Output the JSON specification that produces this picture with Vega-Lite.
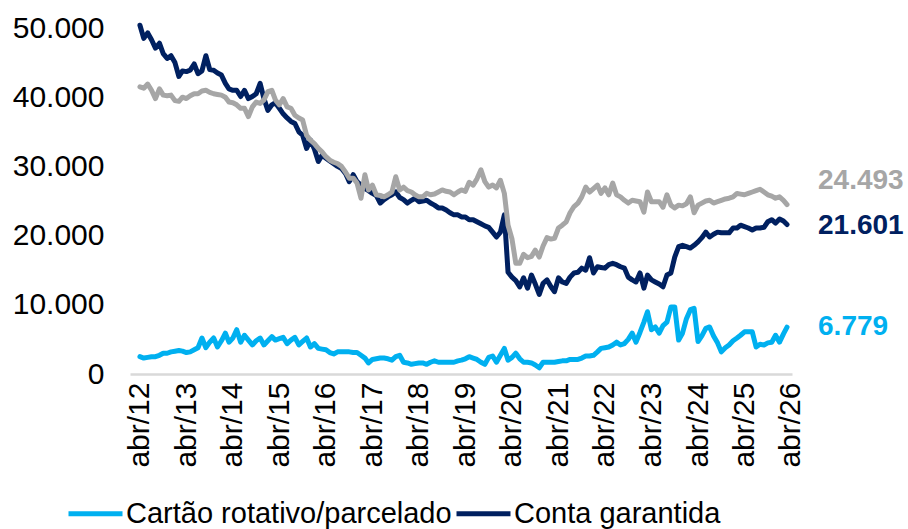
{
"$schema": "https://vega.github.io/schema/vega-lite/v6.json",
"width": 662, "height": 346,
"padding": {"left": 12, "top": 13, "right": 0, "bottom": 0},
"background": "white",
"config": {"view": {"stroke": null}, "font": "Liberation Sans",
  "locale": {"number": {"decimal": ",", "thousands": ".", "grouping": [3], "currency": ["R$", ""]}}},
"datasets": {
"cartao": [
{"d":"2012-04","v":2500},{"d":"2012-05","v":2300},{"d":"2012-06","v":2400},{"d":"2012-07","v":2500},{"d":"2012-08","v":2500},{"d":"2012-09","v":2700},{"d":"2012-10","v":3000},{"d":"2012-11","v":3000},{"d":"2012-12","v":3200},
{"d":"2013-01","v":3300},{"d":"2013-02","v":3400},{"d":"2013-03","v":3300},{"d":"2013-04","v":3100},{"d":"2013-05","v":3200},{"d":"2013-06","v":3500},{"d":"2013-07","v":3800},{"d":"2013-08","v":5200},{"d":"2013-09","v":3800},{"d":"2013-10","v":4600},{"d":"2013-11","v":5200},{"d":"2013-12","v":3900},
{"d":"2014-01","v":4800},{"d":"2014-02","v":5900},{"d":"2014-03","v":4600},{"d":"2014-04","v":5200},{"d":"2014-05","v":6400},{"d":"2014-06","v":4600},{"d":"2014-07","v":5600},{"d":"2014-08","v":4900},{"d":"2014-09","v":4200},{"d":"2014-10","v":4800},{"d":"2014-11","v":5200},{"d":"2014-12","v":4200},
{"d":"2015-01","v":4800},{"d":"2015-02","v":5400},{"d":"2015-03","v":4900},{"d":"2015-04","v":5100},{"d":"2015-05","v":5300},{"d":"2015-06","v":4400},{"d":"2015-07","v":4900},{"d":"2015-08","v":5300},{"d":"2015-09","v":4200},{"d":"2015-10","v":4700},{"d":"2015-11","v":5200},{"d":"2015-12","v":3900},
{"d":"2016-01","v":4400},{"d":"2016-02","v":3700},{"d":"2016-03","v":3600},{"d":"2016-04","v":3500},{"d":"2016-05","v":3100},{"d":"2016-06","v":2900},{"d":"2016-07","v":3200},{"d":"2016-08","v":3200},{"d":"2016-09","v":3200},{"d":"2016-10","v":3200},{"d":"2016-11","v":3100},{"d":"2016-12","v":3100},
{"d":"2017-01","v":2700},{"d":"2017-02","v":2300},{"d":"2017-03","v":1600},{"d":"2017-04","v":2100},{"d":"2017-05","v":2200},{"d":"2017-06","v":2300},{"d":"2017-07","v":2300},{"d":"2017-08","v":2200},{"d":"2017-09","v":2000},{"d":"2017-10","v":2500},{"d":"2017-11","v":2700},{"d":"2017-12","v":1700},
{"d":"2018-01","v":1600},{"d":"2018-02","v":1400},{"d":"2018-03","v":1500},{"d":"2018-04","v":1600},{"d":"2018-05","v":1600},{"d":"2018-06","v":1400},{"d":"2018-07","v":1700},{"d":"2018-08","v":1900},{"d":"2018-09","v":1700},{"d":"2018-10","v":1700},{"d":"2018-11","v":1700},{"d":"2018-12","v":1700},
{"d":"2019-01","v":1700},{"d":"2019-02","v":1900},{"d":"2019-03","v":2000},{"d":"2019-04","v":2200},{"d":"2019-05","v":2500},{"d":"2019-06","v":2300},{"d":"2019-07","v":2100},{"d":"2019-08","v":1700},{"d":"2019-09","v":1400},{"d":"2019-10","v":2400},{"d":"2019-11","v":2600},{"d":"2019-12","v":1700},
{"d":"2020-01","v":2700},{"d":"2020-02","v":3700},{"d":"2020-03","v":2000},{"d":"2020-04","v":2400},{"d":"2020-05","v":3000},{"d":"2020-06","v":2200},{"d":"2020-07","v":1700},{"d":"2020-08","v":1700},{"d":"2020-09","v":1600},{"d":"2020-10","v":1300},{"d":"2020-11","v":900},{"d":"2020-12","v":1700},
{"d":"2021-01","v":1700},{"d":"2021-02","v":1700},{"d":"2021-03","v":1700},{"d":"2021-04","v":1800},{"d":"2021-05","v":1900},{"d":"2021-06","v":1900},{"d":"2021-07","v":2100},{"d":"2021-08","v":2100},{"d":"2021-09","v":2100},{"d":"2021-10","v":2300},{"d":"2021-11","v":2600},{"d":"2021-12","v":2600},
{"d":"2022-01","v":2700},{"d":"2022-02","v":3200},{"d":"2022-03","v":3700},{"d":"2022-04","v":3800},{"d":"2022-05","v":3900},{"d":"2022-06","v":4200},{"d":"2022-07","v":4600},{"d":"2022-08","v":4200},{"d":"2022-09","v":4400},{"d":"2022-10","v":5000},{"d":"2022-11","v":5900},{"d":"2022-12","v":4600},
{"d":"2023-01","v":6000},{"d":"2023-02","v":7500},{"d":"2023-03","v":9000},{"d":"2023-04","v":6400},{"d":"2023-05","v":6800},{"d":"2023-06","v":5900},{"d":"2023-07","v":7000},{"d":"2023-08","v":7500},{"d":"2023-09","v":9700},{"d":"2023-10","v":9700},{"d":"2023-11","v":4900},{"d":"2023-12","v":5900},
{"d":"2024-01","v":8000},{"d":"2024-02","v":9300},{"d":"2024-03","v":9500},{"d":"2024-04","v":4700},{"d":"2024-05","v":5500},{"d":"2024-06","v":6600},{"d":"2024-07","v":6800},{"d":"2024-08","v":5500},{"d":"2024-09","v":4500},{"d":"2024-10","v":3200},{"d":"2024-11","v":3800},{"d":"2024-12","v":4200},
{"d":"2025-01","v":4800},{"d":"2025-02","v":5200},{"d":"2025-03","v":5600},{"d":"2025-04","v":6100},{"d":"2025-05","v":6100},{"d":"2025-06","v":6100},{"d":"2025-07","v":3900},{"d":"2025-08","v":4300},{"d":"2025-09","v":4200},{"d":"2025-10","v":4500},{"d":"2025-11","v":4600},{"d":"2025-12","v":5600},
{"d":"2026-01","v":4600},{"d":"2026-02","v":5800},{"d":"2026-03","v":6779}
],
"conta": [
{"d":"2012-04","v":50400},{"d":"2012-05","v":48500},{"d":"2012-06","v":49300},{"d":"2012-07","v":48300},{"d":"2012-08","v":47100},{"d":"2012-09","v":47800},{"d":"2012-10","v":46300},{"d":"2012-11","v":45600},{"d":"2012-12","v":46000},
{"d":"2013-01","v":45000},{"d":"2013-02","v":43000},{"d":"2013-03","v":43800},{"d":"2013-04","v":43700},{"d":"2013-05","v":43900},{"d":"2013-06","v":44800},{"d":"2013-07","v":43400},{"d":"2013-08","v":43800},{"d":"2013-09","v":46000},{"d":"2013-10","v":44000},{"d":"2013-11","v":43900},{"d":"2013-12","v":43500},
{"d":"2014-01","v":43200},{"d":"2014-02","v":42000},{"d":"2014-03","v":41200},{"d":"2014-04","v":41000},{"d":"2014-05","v":41000},{"d":"2014-06","v":40100},{"d":"2014-07","v":41000},{"d":"2014-08","v":39800},{"d":"2014-09","v":40100},{"d":"2014-10","v":40500},{"d":"2014-11","v":42000},{"d":"2014-12","v":39800},
{"d":"2015-01","v":38100},{"d":"2015-02","v":38900},{"d":"2015-03","v":39200},{"d":"2015-04","v":38400},{"d":"2015-05","v":37600},{"d":"2015-06","v":37000},{"d":"2015-07","v":36500},{"d":"2015-08","v":36200},{"d":"2015-09","v":35000},{"d":"2015-10","v":34500},{"d":"2015-11","v":32600},{"d":"2015-12","v":33800},
{"d":"2016-01","v":32500},{"d":"2016-02","v":30700},{"d":"2016-03","v":31600},{"d":"2016-04","v":31200},{"d":"2016-05","v":30800},{"d":"2016-06","v":30400},{"d":"2016-07","v":30000},{"d":"2016-08","v":29700},{"d":"2016-09","v":29000},{"d":"2016-10","v":27800},{"d":"2016-11","v":28800},{"d":"2016-12","v":27800},
{"d":"2017-01","v":27300},{"d":"2017-02","v":26800},{"d":"2017-03","v":26500},{"d":"2017-04","v":26100},{"d":"2017-05","v":25800},{"d":"2017-06","v":24700},{"d":"2017-07","v":25200},{"d":"2017-08","v":25600},{"d":"2017-09","v":25900},{"d":"2017-10","v":26300},{"d":"2017-11","v":25500},{"d":"2017-12","v":25200},
{"d":"2018-01","v":24700},{"d":"2018-02","v":25100},{"d":"2018-03","v":25400},{"d":"2018-04","v":24900},{"d":"2018-05","v":25000},{"d":"2018-06","v":25100},{"d":"2018-07","v":24700},{"d":"2018-08","v":24400},{"d":"2018-09","v":24000},{"d":"2018-10","v":24000},{"d":"2018-11","v":23700},{"d":"2018-12","v":23300},
{"d":"2019-01","v":23000},{"d":"2019-02","v":23000},{"d":"2019-03","v":22700},{"d":"2019-04","v":22700},{"d":"2019-05","v":22300},{"d":"2019-06","v":22300},{"d":"2019-07","v":22000},{"d":"2019-08","v":21700},{"d":"2019-09","v":21400},{"d":"2019-10","v":21200},{"d":"2019-11","v":20500},{"d":"2019-12","v":19800},
{"d":"2020-01","v":20500},{"d":"2020-02","v":23000},{"d":"2020-03","v":14700},{"d":"2020-04","v":14000},{"d":"2020-05","v":13500},{"d":"2020-06","v":12600},{"d":"2020-07","v":13900},{"d":"2020-08","v":12400},{"d":"2020-09","v":14300},{"d":"2020-10","v":13000},{"d":"2020-11","v":11500},{"d":"2020-12","v":13100},
{"d":"2021-01","v":13600},{"d":"2021-02","v":12600},{"d":"2021-03","v":11900},{"d":"2021-04","v":13900},{"d":"2021-05","v":13300},{"d":"2021-06","v":13100},{"d":"2021-07","v":14000},{"d":"2021-08","v":14600},{"d":"2021-09","v":14700},{"d":"2021-10","v":15300},{"d":"2021-11","v":15000},{"d":"2021-12","v":16800},
{"d":"2022-01","v":14600},{"d":"2022-02","v":15500},{"d":"2022-03","v":15400},{"d":"2022-04","v":15300},{"d":"2022-05","v":15800},{"d":"2022-06","v":16000},{"d":"2022-07","v":15800},{"d":"2022-08","v":15500},{"d":"2022-09","v":15300},{"d":"2022-10","v":14000},{"d":"2022-11","v":13600},{"d":"2022-12","v":13300},
{"d":"2023-01","v":14600},{"d":"2023-02","v":12400},{"d":"2023-03","v":14300},{"d":"2023-04","v":13600},{"d":"2023-05","v":13300},{"d":"2023-06","v":13000},{"d":"2023-07","v":12600},{"d":"2023-08","v":14300},{"d":"2023-09","v":14600},{"d":"2023-10","v":16900},{"d":"2023-11","v":18400},{"d":"2023-12","v":18600},
{"d":"2024-01","v":18400},{"d":"2024-02","v":18200},{"d":"2024-03","v":18600},{"d":"2024-04","v":19100},{"d":"2024-05","v":19700},{"d":"2024-06","v":20500},{"d":"2024-07","v":19800},{"d":"2024-08","v":20200},{"d":"2024-09","v":20500},{"d":"2024-10","v":20400},{"d":"2024-11","v":20400},{"d":"2024-12","v":20400},
{"d":"2025-01","v":21100},{"d":"2025-02","v":21100},{"d":"2025-03","v":21500},{"d":"2025-04","v":21300},{"d":"2025-05","v":21100},{"d":"2025-06","v":20800},{"d":"2025-07","v":21100},{"d":"2025-08","v":21100},{"d":"2025-09","v":21200},{"d":"2025-10","v":22000},{"d":"2025-11","v":22300},{"d":"2025-12","v":21800},
{"d":"2026-01","v":22400},{"d":"2026-02","v":22100},{"d":"2026-03","v":21601}
],
"outros": [
{"d":"2012-04","v":41500},{"d":"2012-05","v":41300},{"d":"2012-06","v":41900},{"d":"2012-07","v":41000},{"d":"2012-08","v":39800},{"d":"2012-09","v":41200},{"d":"2012-10","v":40300},{"d":"2012-11","v":40200},{"d":"2012-12","v":40300},
{"d":"2013-01","v":39500},{"d":"2013-02","v":39400},{"d":"2013-03","v":40000},{"d":"2013-04","v":39800},{"d":"2013-05","v":40200},{"d":"2013-06","v":40500},{"d":"2013-07","v":40500},{"d":"2013-08","v":40900},{"d":"2013-09","v":41000},{"d":"2013-10","v":40700},{"d":"2013-11","v":40500},{"d":"2013-12","v":40400},
{"d":"2014-01","v":40300},{"d":"2014-02","v":40000},{"d":"2014-03","v":39300},{"d":"2014-04","v":39200},{"d":"2014-05","v":38900},{"d":"2014-06","v":38400},{"d":"2014-07","v":38400},{"d":"2014-08","v":37200},{"d":"2014-09","v":38600},{"d":"2014-10","v":39300},{"d":"2014-11","v":39100},{"d":"2014-12","v":39600},
{"d":"2015-01","v":40800},{"d":"2015-02","v":41000},{"d":"2015-03","v":39600},{"d":"2015-04","v":38900},{"d":"2015-05","v":39800},{"d":"2015-06","v":38600},{"d":"2015-07","v":38400},{"d":"2015-08","v":37400},{"d":"2015-09","v":37000},{"d":"2015-10","v":36700},{"d":"2015-11","v":34500},{"d":"2015-12","v":33800},
{"d":"2016-01","v":33300},{"d":"2016-02","v":32600},{"d":"2016-03","v":32100},{"d":"2016-04","v":31400},{"d":"2016-05","v":30900},{"d":"2016-06","v":30600},{"d":"2016-07","v":30400},{"d":"2016-08","v":30000},{"d":"2016-09","v":29200},{"d":"2016-10","v":28300},{"d":"2016-11","v":28300},{"d":"2016-12","v":27600},
{"d":"2017-01","v":25400},{"d":"2017-02","v":28800},{"d":"2017-03","v":26600},{"d":"2017-04","v":27300},{"d":"2017-05","v":25900},{"d":"2017-06","v":25800},{"d":"2017-07","v":25600},{"d":"2017-08","v":25900},{"d":"2017-09","v":26300},{"d":"2017-10","v":28500},{"d":"2017-11","v":26600},{"d":"2017-12","v":27000},
{"d":"2018-01","v":26500},{"d":"2018-02","v":26300},{"d":"2018-03","v":25900},{"d":"2018-04","v":25600},{"d":"2018-05","v":25600},{"d":"2018-06","v":26100},{"d":"2018-07","v":25900},{"d":"2018-08","v":26000},{"d":"2018-09","v":26300},{"d":"2018-10","v":26600},{"d":"2018-11","v":26400},{"d":"2018-12","v":26300},
{"d":"2019-01","v":25900},{"d":"2019-02","v":26300},{"d":"2019-03","v":26600},{"d":"2019-04","v":26400},{"d":"2019-05","v":27700},{"d":"2019-06","v":27300},{"d":"2019-07","v":28200},{"d":"2019-08","v":29500},{"d":"2019-09","v":27800},{"d":"2019-10","v":27000},{"d":"2019-11","v":27300},{"d":"2019-12","v":26900},
{"d":"2020-01","v":28000},{"d":"2020-02","v":26100},{"d":"2020-03","v":21500},{"d":"2020-04","v":19500},{"d":"2020-05","v":16000},{"d":"2020-06","v":16000},{"d":"2020-07","v":17300},{"d":"2020-08","v":16800},{"d":"2020-09","v":17000},{"d":"2020-10","v":17900},{"d":"2020-11","v":16900},{"d":"2020-12","v":18500},
{"d":"2021-01","v":19700},{"d":"2021-02","v":19500},{"d":"2021-03","v":19600},{"d":"2021-04","v":21100},{"d":"2021-05","v":21500},{"d":"2021-06","v":22000},{"d":"2021-07","v":23300},{"d":"2021-08","v":24200},{"d":"2021-09","v":24700},{"d":"2021-10","v":25600},{"d":"2021-11","v":27000},{"d":"2021-12","v":26300},
{"d":"2022-01","v":26800},{"d":"2022-02","v":27300},{"d":"2022-03","v":26100},{"d":"2022-04","v":26900},{"d":"2022-05","v":25900},{"d":"2022-06","v":27600},{"d":"2022-07","v":25900},{"d":"2022-08","v":25600},{"d":"2022-09","v":25100},{"d":"2022-10","v":24700},{"d":"2022-11","v":25100},{"d":"2022-12","v":25000},
{"d":"2023-01","v":24900},{"d":"2023-02","v":23400},{"d":"2023-03","v":26300},{"d":"2023-04","v":24900},{"d":"2023-05","v":24900},{"d":"2023-06","v":24900},{"d":"2023-07","v":24100},{"d":"2023-08","v":25900},{"d":"2023-09","v":24400},{"d":"2023-10","v":24000},{"d":"2023-11","v":24400},{"d":"2023-12","v":24300},
{"d":"2024-01","v":24600},{"d":"2024-02","v":25600},{"d":"2024-03","v":23300},{"d":"2024-04","v":24400},{"d":"2024-05","v":24700},{"d":"2024-06","v":25000},{"d":"2024-07","v":25100},{"d":"2024-08","v":24700},{"d":"2024-09","v":24900},{"d":"2024-10","v":25100},{"d":"2024-11","v":25300},{"d":"2024-12","v":25400},
{"d":"2025-01","v":25600},{"d":"2025-02","v":26100},{"d":"2025-03","v":26000},{"d":"2025-04","v":25900},{"d":"2025-05","v":26100},{"d":"2025-06","v":26300},{"d":"2025-07","v":26500},{"d":"2025-08","v":26700},{"d":"2025-09","v":26300},{"d":"2025-10","v":25900},{"d":"2025-11","v":25700},{"d":"2025-12","v":25400},
{"d":"2026-01","v":25600},{"d":"2026-02","v":25100},{"d":"2026-03","v":24493}
]
},
"encoding": {
  "x": {"field": "d", "type": "temporal",
    "scale": {"type": "utc", "domain": [{"year": 2012, "month": 1, "date": 14, "utc": true}, {"year": 2026, "month": 4, "date": 9, "utc": true}]},
    "axis": {"title": null,
      "values": [{"year":2012,"month":4,"date":1,"utc":true},{"year":2013,"month":4,"date":1,"utc":true},{"year":2014,"month":4,"date":1,"utc":true},{"year":2015,"month":4,"date":1,"utc":true},{"year":2016,"month":4,"date":1,"utc":true},{"year":2017,"month":4,"date":1,"utc":true},{"year":2018,"month":4,"date":1,"utc":true},{"year":2019,"month":4,"date":1,"utc":true},{"year":2020,"month":4,"date":1,"utc":true},{"year":2021,"month":4,"date":1,"utc":true},{"year":2022,"month":4,"date":1,"utc":true},{"year":2023,"month":4,"date":1,"utc":true},{"year":2024,"month":4,"date":1,"utc":true},{"year":2025,"month":4,"date":1,"utc":true},{"year":2026,"month":4,"date":1,"utc":true}],
      "labelExpr": "'abr/' + utcFormat(datum.value, '%y')",
      "labelAngle": 270, "labelFontSize": 30, "labelFont": "Liberation Sans", "labelColor": "#000000",
      "labelPadding": 8, "labelOverlap": false, "labelFlush": false, "labelBound": false,
      "ticks": false, "tickSize": 0, "grid": false,
      "domainColor": "#D9D9D9", "domainWidth": 2.5}},
  "y": {"field": "v", "type": "quantitative",
    "scale": {"domain": [0, 50000], "nice": false, "zero": true},
    "axis": {"title": null, "values": [0, 10000, 20000, 30000, 40000, 50000], "format": ",.0f",
      "labelFontSize": 30, "labelFont": "Liberation Sans", "labelColor": "#000000",
      "labelPadding": 26, "ticks": false, "tickSize": 0, "domain": false, "grid": false}}
},
"layer": [
  {"data": {"name": "cartao"},
   "mark": {"type": "line", "strokeWidth": 5, "strokeJoin": "round", "strokeCap": "round"},
   "encoding": {"color": {"datum": "Cartão rotativo/parcelado", "type": "nominal",
      "scale": {"domain": ["Cartão rotativo/parcelado", "Conta garantida"], "range": ["#00B0F0", "#002060"]},
      "legend": {"orient": "none", "legendX": -64, "legendY": 456, "direction": "horizontal", "title": null,
        "labelFontSize": 29, "labelFont": "Liberation Sans", "labelColor": "#000000", "labelLimit": 600,
        "symbolType": "stroke", "symbolSize": 2916, "symbolStrokeWidth": 5, "columnPadding": -6, "labelOffset": 1}}}},
  {"data": {"name": "conta"},
   "mark": {"type": "line", "strokeWidth": 5, "strokeJoin": "round", "strokeCap": "round"},
   "encoding": {"color": {"datum": "Conta garantida", "type": "nominal"}}},
  {"data": {"name": "outros"},
   "mark": {"type": "line", "strokeWidth": 5, "strokeJoin": "round", "strokeCap": "round", "color": "#A6A6A6"},
   "encoding": {}},
  {"data": {"name": "cartao"},
   "transform": [{"window": [{"op": "row_number", "as": "rn"}], "sort": [{"field": "d", "order": "descending"}]}, {"filter": "datum.rn == 1"}],
   "mark": {"type": "text", "align": "left", "baseline": "middle", "dx": 31, "fontSize": 28, "fontWeight": "bold", "font": "Liberation Sans", "color": "#00B0F0"},
   "encoding": {"text": {"field": "v", "type": "quantitative", "format": ",.0f"}}},
  {"data": {"name": "conta"},
   "transform": [{"window": [{"op": "row_number", "as": "rn"}], "sort": [{"field": "d", "order": "descending"}]}, {"filter": "datum.rn == 1"}],
   "mark": {"type": "text", "align": "left", "baseline": "middle", "dx": 31, "dy": 1, "fontSize": 28, "fontWeight": "bold", "font": "Liberation Sans", "color": "#002060"},
   "encoding": {"text": {"field": "v", "type": "quantitative", "format": ",.0f"}}},
  {"data": {"name": "outros"},
   "transform": [{"window": [{"op": "row_number", "as": "rn"}], "sort": [{"field": "d", "order": "descending"}]}, {"filter": "datum.rn == 1"}],
   "mark": {"type": "text", "align": "left", "baseline": "middle", "dx": 31, "dy": -24, "fontSize": 28, "fontWeight": "bold", "font": "Liberation Sans", "color": "#A6A6A6"},
   "encoding": {"text": {"field": "v", "type": "quantitative", "format": ",.0f"}}}
]
}
